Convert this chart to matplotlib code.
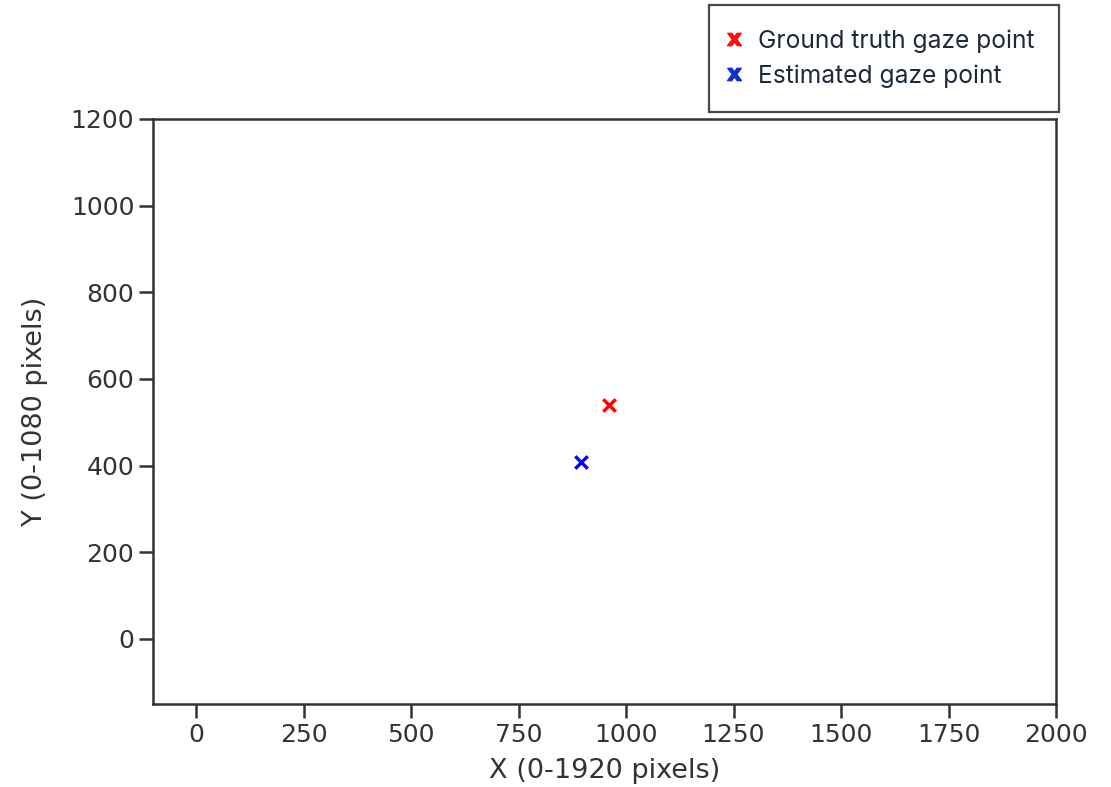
import matplotlib
matplotlib.use("Agg")
import matplotlib.pyplot as plt
from matplotlib.lines import Line2D

# gaze points (screen pixels)
truth_x = [960]
truth_y = [540]
est_x = [895]
est_y = [408]
labels = ['Ground truth gaze point', 'Estimated gaze point']
xticks = [0, 250, 500, 750, 1000, 1250, 1500, 1750, 2000]
yticks = [0, 200, 400, 600, 800, 1000, 1200]


def main():
    plt.rcParams['font.family'] = 'DejaVu Sans'
    plt.rcParams['font.size'] = 18
    fig = plt.figure(figsize=(11.11, 7.87), dpi=100)
    ax = fig.add_axes([153/1111, 1 - 704/787, (1056 - 153)/1111, (704 - 119)/787])

    ax.scatter(truth_x, truth_y, marker='x', c='r', s=80, linewidths=2.4)
    ax.scatter(est_x, est_y, marker='x', c='b', s=80, linewidths=2.4)

    ax.set_xlim(-100, 2000)
    ax.set_ylim(-150, 1200)
    ax.set_xticks(xticks)
    ax.set_yticks(yticks)
    ax.tick_params(length=10, width=1.8, colors='#333333', labelcolor='#333333',
                   labelsize=18)
    for sp in ax.spines.values():
        sp.set_linewidth(1.8)
        sp.set_color('#333333')
    ax.set_xlabel('X (0-1920 pixels)', color='#333333', fontsize=19.5, labelpad=8)
    ax.set_ylabel('Y (0-1080 pixels)', color='#333333', fontsize=19.5, labelpad=16)

    handles = [Line2D([], [], ls='none', marker=r'$\mathbf{x}$', color='#ff1010', markersize=10),
               Line2D([], [], ls='none', marker=r'$\mathbf{x}$', color='#1030cc', markersize=10)]
    leg = fig.legend(handles, labels, loc='upper left',
                     bbox_to_anchor=(709/1111, 1 - 5/787),
                     prop={'family': 'Inter', 'size': 17.7},
                     labelcolor='#1a2b3c', frameon=True, fancybox=False,
                     borderpad=1.0, handletextpad=1.0, handlelength=0.0,
                     labelspacing=0.45, borderaxespad=0)
    leg.get_frame().set_edgecolor('#1a1a1a')
    leg.get_frame().set_linewidth(1.6)

    fig.savefig('out.png', dpi=100)


if __name__ == '__main__':
    main()
